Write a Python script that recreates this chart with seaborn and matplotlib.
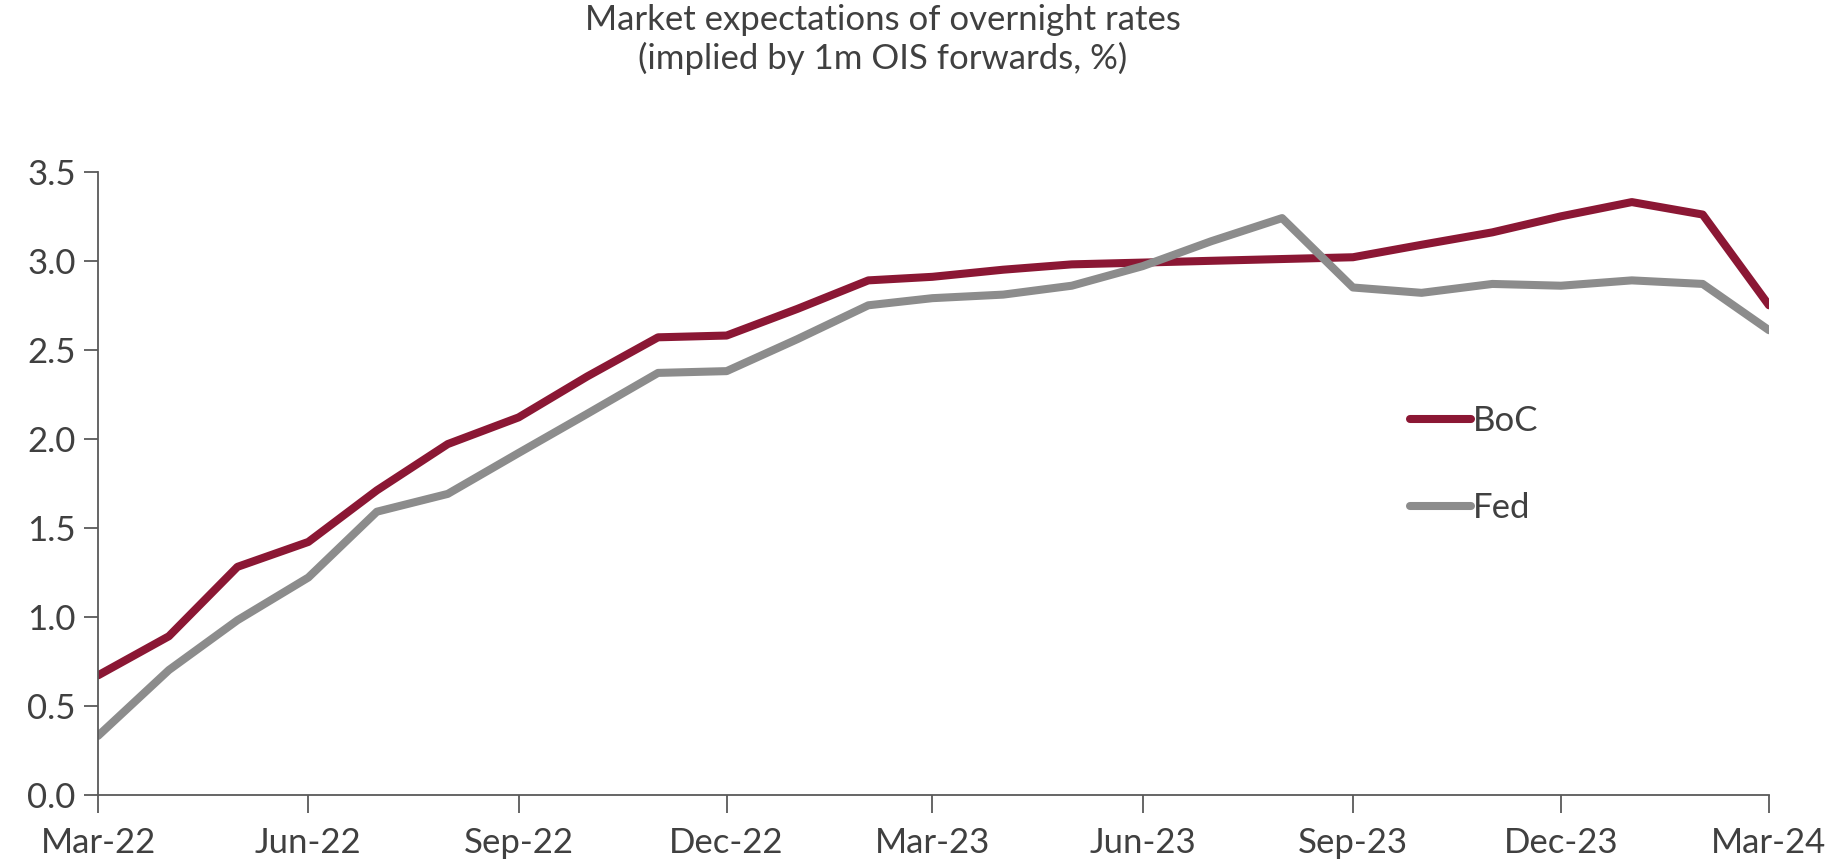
import pandas as pd
import matplotlib
matplotlib.use("Agg")
import matplotlib.pyplot as plt
import seaborn as sns

# monthly observations, Mar-22 .. Mar-24
months = [
    "2022-03", "2022-04", "2022-05", "2022-06", "2022-07", "2022-08", "2022-09",
    "2022-10", "2022-11", "2022-12", "2023-01", "2023-02", "2023-03", "2023-04",
    "2023-05", "2023-06", "2023-07", "2023-08", "2023-09", "2023-10", "2023-11",
    "2023-12", "2024-01", "2024-02", "2024-03",
]
boc = [
    0.67, 0.89, 1.28, 1.42, 1.71, 1.97, 2.12, 2.35, 2.57, 2.58, 2.73, 2.89, 2.91,
    2.95, 2.98, 2.99, 3.00, 3.01, 3.02, 3.09, 3.16, 3.25, 3.33, 3.26, 2.75,
]
fed = [
    0.33, 0.70, 0.98, 1.22, 1.59, 1.69, 1.92, 2.14, 2.37, 2.38, 2.56, 2.75, 2.79,
    2.81, 2.86, 2.97, 3.11, 3.24, 2.85, 2.82, 2.87, 2.86, 2.89, 2.87, 2.61,
]
tick_months = ["2022-03", "2022-06", "2022-09", "2022-12", "2023-03", "2023-06",
               "2023-09", "2023-12", "2024-03"]
tick_labels = ["Mar-22", "Jun-22", "Sep-22", "Dec-22", "Mar-23", "Jun-23",
               "Sep-23", "Dec-23", "Mar-24"]
y_ticks = [0.0, 0.5, 1.0, 1.5, 2.0, 2.5, 3.0, 3.5]

dates = pd.to_datetime(months)
df = pd.concat([
    pd.DataFrame({"date": dates, "rate": boc, "bank": "BoC"}),
    pd.DataFrame({"date": dates, "rate": fed, "bank": "Fed"}),
])

sns.set_style("white")
plt.rcParams["font.family"] = ["Lato", "DejaVu Sans"]
text_color = "#404040"
fsize = 25

fig = plt.figure(figsize=(18.32, 8.67), dpi=100)
ax = fig.add_axes([0.0535, 0.0835, 0.9121, 0.7183])

sns.lineplot(
    data=df, x="date", y="rate", hue="bank",
    palette={"BoC": "#8B1734", "Fed": "#8C8C8C"},
    linewidth=5.8, ax=ax, legend=True,
)

ax.set_xlim(dates[0], dates[-1])
ax.set_ylim(0, 3.5)
ax.set_yticks(y_ticks)
ax.set_yticklabels([f"{v:.1f}" for v in y_ticks])
ax.set_xticks(pd.to_datetime(tick_months))
ax.set_xticklabels(tick_labels)
ax.set_xlabel("")
ax.set_ylabel("")

for side in ["top", "right"]:
    ax.spines[side].set_visible(False)
for side in ["left", "bottom"]:
    ax.spines[side].set_color("#595959")
    ax.spines[side].set_linewidth(1.3)

ax.tick_params(axis="x", bottom=True, direction="out", length=13, width=1.3,
               color="#595959", labelsize=fsize, labelcolor=text_color, pad=10)
ax.tick_params(axis="y", left=True, direction="out", length=10, width=1.3,
               color="#595959", labelsize=fsize, labelcolor=text_color, pad=6)

leg = ax.legend(
    loc="center left", bbox_to_anchor=(0.775, 0.53), frameon=False,
    fontsize=fsize, handlelength=1.75, handletextpad=0.05, labelspacing=1.6,
    borderpad=0,
)
for txt in leg.get_texts():
    txt.set_color(text_color)
for line in leg.get_lines():
    line.set_linewidth(5.8)
    line.set_solid_capstyle("round")

fig.text(0.482, 0.995, "Market expectations of overnight rates\n(implied by 1m OIS forwards, %)",
         ha="center", va="top", fontsize=fsize, color=text_color, linespacing=1.2)

fig.savefig("out.png", dpi=100)
